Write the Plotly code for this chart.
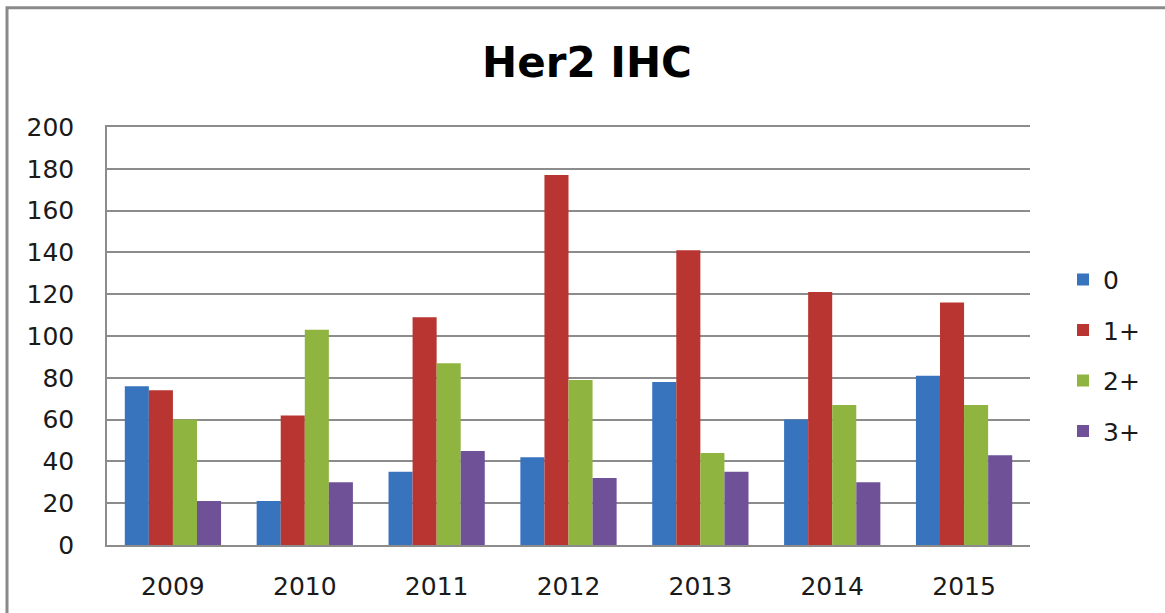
import plotly.graph_objects as go

years = ["2009", "2010", "2011", "2012", "2013", "2014", "2015"]
series_names = ["0", "1+", "2+", "3+"]
vals_0 = [76, 21, 35, 42, 78, 60, 81]
vals_1 = [74, 62, 109, 177, 141, 121, 116]
vals_2 = [60, 103, 87, 79, 44, 67, 67]
vals_3 = [21, 30, 45, 32, 35, 30, 43]
colors = ["#3873be", "#b93531", "#8fb43f", "#6f5197"]

fig = go.Figure()
for name, vals, col in zip(series_names, [vals_0, vals_1, vals_2, vals_3], colors):
    fig.add_trace(go.Bar(x=years, y=vals, name=name, legendgroup=name,
                         marker=dict(color=col, line=dict(width=0))))

L, R, T, B = 107, 135, 127, 65
W, H = 1165, 613
pw, ph = W - L - R, H - T - B

def px_x(x):
    return (x - L) / pw

def px_y(y):
    return (H - B - y) / ph

FONT = "DejaVu Sans, Verdana, sans-serif"
fig.update_layout(
    width=W, height=H,
    margin=dict(l=L, r=R, t=T, b=B),
    paper_bgcolor="white", plot_bgcolor="white",
    barmode="group", bargap=0.27, bargroupgap=0,
    font=dict(family=FONT, color="#1a1a1a", size=25),
    title=dict(text="<b>Her2 IHC</b>", x=587 / W, xanchor="center", y=1 - 62 / H, yanchor="middle",
               font=dict(size=42, color="#000", family=FONT)),
    legend=dict(x=px_x(1063), xanchor="left", y=px_y(357), yanchor="middle",
                tracegroupgap=15, font=dict(size=25, color="#1a1a1a"),
                bgcolor="rgba(0,0,0,0)"),
    showlegend=True,
)
fig.update_yaxes(range=[0, 200], dtick=20, showgrid=True, gridcolor="#8c8c8c", gridwidth=1.5,
                 showline=True, linecolor="#8c8c8c", linewidth=1.5, ticks="", zeroline=False,
                 ticklabelstandoff=26)
fig.update_xaxes(showline=True, mirror=True, linecolor="#8c8c8c", linewidth=1.5, ticks="",
                 ticklabelstandoff=18)

fig.add_shape(type="rect", xref="paper", yref="paper",
              x0=px_x(7), x1=px_x(1175), y0=px_y(7), y1=px_y(625),
              line=dict(color="#8a8a8a", width=3), fillcolor="rgba(0,0,0,0)", layer="below")

fig.write_html("out.html", config={"displayModeBar": False},
               post_script="document.body.style.margin='0';document.body.style.overflow='hidden';")
